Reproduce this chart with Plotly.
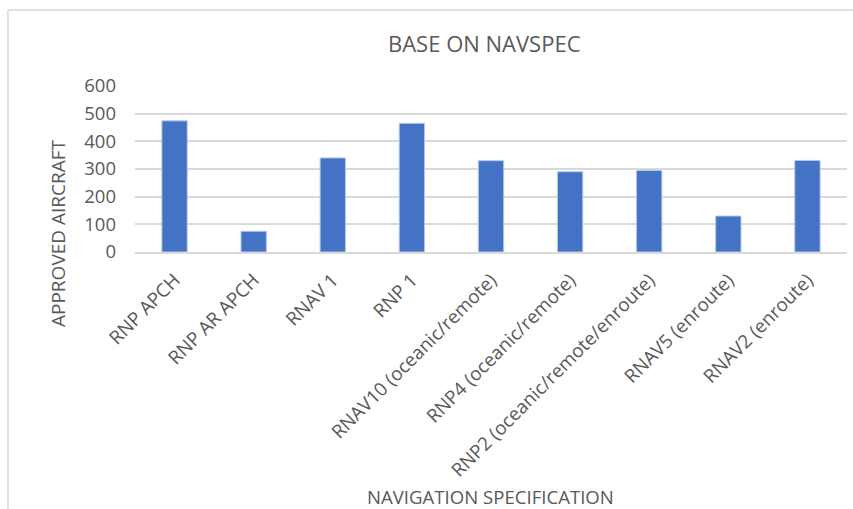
import plotly.graph_objects as go

categories = [
    "RNP APCH",
    "RNP AR APCH",
    "RNAV 1",
    "RNP 1",
    "RNAV10 (oceanic/remote)",
    "RNP4 (oceanic/remote)",
    "RNP2 (oceanic/remote/enroute)",
    "RNAV5 (enroute)",
    "RNAV2 (enroute)",
]
approved_aircraft = [474, 75, 340, 465, 330, 290, 295, 130, 331]
y_ticks = [0, 100, 200, 300, 400, 500, 600]

W, H = 853, 509
L, R, T, B = 135, 847, 86, 252
pw, ph = R - L, B - T

def px(x):
    return (x - L) / pw

def py(y):
    return (B - y) / ph

TEXT = "#595959"
FONT = "Open Sans"

fig = go.Figure(
    go.Bar(
        x=categories,
        y=approved_aircraft,
        marker=dict(color="#4472C4", line=dict(color="#b4c7e7", width=1)),
        width=0.32,
    )
)

fig.update_layout(
    width=W,
    height=H,
    margin=dict(l=L, r=W - R, t=T, b=H - B),
    paper_bgcolor="white",
    plot_bgcolor="white",
    showlegend=False,
    font=dict(family=FONT, color=TEXT, size=18),
)

fig.update_yaxes(
    range=[0, 600],
    tickvals=y_ticks,
    showgrid=True,
    gridcolor="#d9d9d9",
    gridwidth=1.5,
    zeroline=False,
    showline=False,
    ticks="",
    ticklabelstandoff=18,
    tickfont=dict(size=18.5, color=TEXT, family=FONT),
)
fig.update_xaxes(
    showgrid=False,
    showline=True,
    linecolor="#d9d9d9",
    linewidth=1.5,
    ticks="",
    tickangle=-45,
    ticklabelstandoff=8,
    tickfont=dict(size=18.8, color=TEXT, family=FONT),
)

annotations = [
    dict(text="BASE ON NAVSPEC", x=px(484.5), y=py(43), font=dict(size=22)),
    dict(text="APPROVED AIRCRAFT", x=px(58), y=py(233), textangle=-90, font=dict(size=19)),
    dict(text="NAVIGATION SPECIFICATION", x=px(490), y=py(497), font=dict(size=18.6)),
]
for a in annotations:
    a.update(xref="paper", yref="paper", showarrow=False, xanchor="center", yanchor="middle")
    a["font"].update(family=FONT, color=TEXT)
fig.update_layout(annotations=annotations)

fig.update_layout(
    shapes=[
        dict(type="line", xref="paper", yref="paper", x0=px(8), x1=px(853), y0=py(10), y1=py(10),
             line=dict(color="#d9d9d9", width=1.5)),
        dict(type="line", xref="paper", yref="paper", x0=px(8), x1=px(8), y0=py(10), y1=py(509),
             line=dict(color="#d9d9d9", width=1.5)),
    ]
)

fig.write_html("out.html")
